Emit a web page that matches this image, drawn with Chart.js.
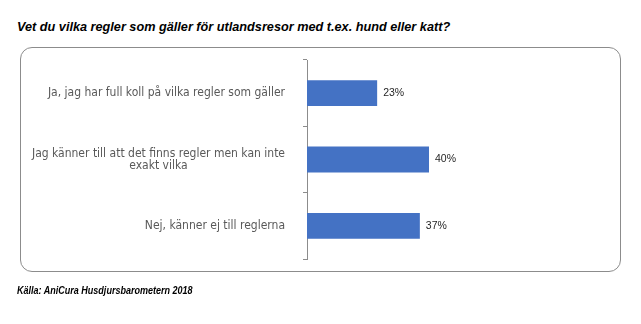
<!DOCTYPE html>
<html>
<head>
<meta charset="utf-8">
<script src="https://cdn.jsdelivr.net/npm/chart.js@4/dist/chart.umd.min.js"></script>
<style>
    html, body { margin: 0; padding: 0; background: #fff; }
    body { width: 641px; height: 324px; position: relative; overflow: hidden; }
    .title {
        position: absolute; left: 17px; top: 20px;
        font: italic bold 12.7px "Liberation Sans", Arial, sans-serif; color: #000;
        white-space: nowrap;
    }
    .frame {
        position: absolute; left: 20px; top: 47px; width: 601px; height: 225px;
        border: 1px solid #8c8c8c; border-radius: 12px; box-sizing: border-box;
    }
    .source {
        position: absolute; left: 17px; top: 284px;
        font: italic bold 11px "Liberation Sans", Arial, sans-serif; color: #000;
        white-space: nowrap; transform: scaleX(0.82); transform-origin: 0 0;
    }
    #chartWrap { position: absolute; left: 0; top: 0; width: 641px; height: 324px; }
</style>
</head>
<body>
<div class="title">Vet du vilka regler som gäller för utlandsresor med t.ex. hund eller katt?</div>
<div class="frame"></div>
<div id="chartWrap"><canvas id="chart" width="641" height="324"></canvas></div>
<div class="source">Källa: AniCura Husdjursbarometern 2018</div>
<script>
    var categories = [
        ['Ja, jag har full koll på vilka regler som gäller'],
        ['Jag känner till att det finns regler men kan inte', 'exakt vilka'],
        ['Nej, känner ej till reglerna']
    ];
    var values = [23, 40, 37];
    var valueLabels = ['23%', '40%', '37%'];

    var labelFont = '12px "DejaVu Sans Condensed", "DejaVu Sans", sans-serif';

    // category labels: block right-aligned, lines centered inside the block
    var categoryLabels = {
        id: 'categoryLabels',
        afterDraw: function (chart) {
            var ctx = chart.ctx;
            var y = chart.scales.y;
            var right = chart.chartArea.left - 22;
            var lineH = 12;
            ctx.save();
            ctx.font = labelFont;
            ctx.fillStyle = '#595959';
            ctx.textAlign = 'center';
            ctx.textBaseline = 'middle';
            categories.forEach(function (lines, i) {
                var w = 0;
                lines.forEach(function (l) { w = Math.max(w, ctx.measureText(l).width); });
                var cx = right - w / 2;
                var cy = y.getPixelForTick(i) - (lines.length - 1) * lineH / 2;
                lines.forEach(function (l, j) {
                    ctx.fillText(l, cx, cy + j * lineH);
                });
            });
            ctx.restore();
        }
    };

    var valueLabelsPlugin = {
        id: 'valueLabels',
        afterDatasetsDraw: function (chart) {
            var ctx = chart.ctx;
            var meta = chart.getDatasetMeta(0);
            ctx.save();
            ctx.font = '10.5px "Liberation Sans", Arial, sans-serif';
            ctx.fillStyle = '#262626';
            ctx.textAlign = 'left';
            ctx.textBaseline = 'middle';
            meta.data.forEach(function (bar, i) {
                ctx.fillText(valueLabels[i], bar.x + 6, bar.y);
            });
            ctx.restore();
        }
    };

    new Chart(document.getElementById('chart'), {
        type: 'bar',
        data: {
            labels: categories.map(function (c) { return c.join(' '); }),
            datasets: [{
                data: values,
                backgroundColor: '#4472C4',
                barPercentage: 0.39,
                categoryPercentage: 1
            }]
        },
        options: {
            indexAxis: 'y',
            responsive: false,
            animation: false,
            layout: { padding: { top: 60, bottom: 65, right: 29, left: 0 } },
            plugins: { legend: { display: false }, tooltip: { enabled: false } },
            scales: {
                x: { display: false, min: 0, max: 100 },
                y: {
                    afterFit: function (scale) { scale.width = 307; },
                    border: { display: true, color: '#8c8c8c', width: 1 },
                    grid: {
                        offset: true,
                        drawOnChartArea: false,
                        drawTicks: true,
                        tickLength: 4,
                        color: '#8c8c8c'
                    },
                    ticks: { display: false }
                }
            }
        },
        plugins: [categoryLabels, valueLabelsPlugin]
    });
</script>
</body>
</html>
